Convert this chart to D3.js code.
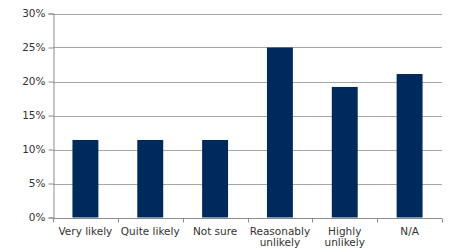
<!DOCTYPE html>
<html>
<head>
<meta charset="utf-8">
<script src="https://cdn.jsdelivr.net/npm/d3@7"></script>
<style>
  body { margin: 0; background: #fff; }
  text { font-family: "DejaVu Sans", sans-serif; fill: #333; }
</style>
</head>
<body>
<svg id="chart" width="450" height="251"></svg>
<script>
// * chart data
const categories = ["Very likely", "Quite likely", "Not sure", "Reasonably unlikely", "Highly unlikely", "N/A"];
const labelLines = [["Very likely"], ["Quite likely"], ["Not sure"], ["Reasonably", "unlikely"], ["Highly", "unlikely"], ["N/A"]];
const values = [11.4, 11.4, 11.4, 25, 19.2, 21.1];
const yTicks = [0, 5, 10, 15, 20, 25, 30];

const margin = { top: 13.5, right: 8, bottom: 33.5, left: 53 };
const width = 450, height = 251;

const svg = d3.select("#chart");

const xScale = d3.scaleBand()
  .domain(categories)
  .range([margin.left, width - margin.right])
  .paddingInner(0.6)
  .paddingOuter(0.3);

const yScale = d3.scaleLinear()
  .domain([0, 30])
  .range([height - margin.bottom, margin.top]);

// * gridlines
svg.append("g")
  .selectAll("line")
  .data(yTicks.slice(1))
  .enter()
  .append("line")
  .attr("x1", margin.left)
  .attr("x2", width - margin.right)
  .attr("y1", (d) => Math.round(yScale(d)) + 0.5)
  .attr("y2", (d) => Math.round(yScale(d)) + 0.5)
  .style("stroke", "#a6a6a6")
  .style("stroke-width", 1);

// * bars
svg.append("g")
  .selectAll("rect")
  .data(categories)
  .enter()
  .append("rect")
  .attr("x", (c) => xScale(c))
  .attr("width", xScale.bandwidth())
  .attr("y", (c, i) => yScale(values[i]))
  .attr("height", (c, i) => yScale(0) - yScale(values[i]))
  .style("fill", "#002a5c");

// * y axis
const yAxis = svg.append("g")
  .attr("transform", `translate(${margin.left + 0.5},0)`)
  .call(d3.axisLeft(yScale).tickValues(yTicks).tickFormat((d) => d + "%").tickSize(5).tickPadding(3));
yAxis.select(".domain").style("stroke", "#8c8c8c");
yAxis.selectAll(".tick line").style("stroke", "#8c8c8c");
yAxis.selectAll("text").style("font-size", "10.5px").style("fill", "#333");

// * x axis with ticks at band boundaries
const baseY = Math.round(yScale(0)) + 0.5;
svg.append("line")
  .attr("x1", margin.left)
  .attr("x2", width - margin.right)
  .attr("y1", baseY)
  .attr("y2", baseY)
  .style("stroke", "#8c8c8c");

const bounds = d3.range(categories.length + 1).map((i) => margin.left + i * xScale.step());
svg.append("g")
  .selectAll("line")
  .data(bounds)
  .enter()
  .append("line")
  .attr("x1", (d) => Math.round(d) + 0.5)
  .attr("x2", (d) => Math.round(d) + 0.5)
  .attr("y1", baseY)
  .attr("y2", baseY + 4)
  .style("stroke", "#8c8c8c");

const labels = svg.append("g")
  .selectAll("text")
  .data(categories)
  .enter()
  .append("text")
  .attr("text-anchor", "middle")
  .style("font-size", "10.5px")
  .attr("x", (c) => xScale(c) + xScale.bandwidth() / 2)
  .attr("y", baseY + 16);

labels.each(function (c, i) {
  labelLines[i].forEach((w, j) => {
    d3.select(this).append("tspan")
      .attr("x", xScale(c) + xScale.bandwidth() / 2)
      .attr("dy", j === 0 ? 0 : 11)
      .text(w);
  });
});
</script>
</body>
</html>
